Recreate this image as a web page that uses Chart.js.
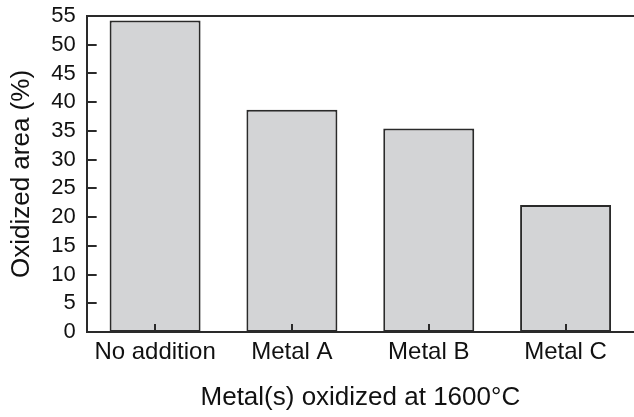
<!DOCTYPE html>
<html>
<head>
<meta charset="utf-8">
<script src="https://cdn.jsdelivr.net/npm/chart.js@4"></script>
<style>
    html, body { margin: 0; padding: 0; background: #fff; }
    #wrap { width: 634px; height: 417px; }
</style>
</head>
<body>
<div id="wrap"><canvas id="chart" width="634" height="417"></canvas></div>
<script>
// Data
const categories = ['No addition', 'Metal A', 'Metal B', 'Metal C'];
const oxidizedArea = [54.2, 38.7, 35.4, 22.1];
const yTicks = [0, 5, 10, 15, 20, 25, 30, 35, 40, 45, 50, 55];

const axisColor = '#2a2a2a';
const fontFamily = '"Liberation Sans", Arial, sans-serif';

// Inward tick marks and the top frame line
const frameTicks = {
    id: 'frameTicks',
    afterDraw(chart) {
        const ctx = chart.ctx;
        const area = chart.chartArea;
        const x = chart.scales.x;
        const y = chart.scales.y;
        ctx.save();
        ctx.strokeStyle = axisColor;
        ctx.lineWidth = 2;
        ctx.beginPath();
        ctx.moveTo(area.left, area.top);
        ctx.lineTo(area.right, area.top);
        yTicks.forEach(v => {
            const py = Math.round(y.getPixelForValue(v));
            ctx.moveTo(area.left, py);
            ctx.lineTo(area.left + 10, py);
        });
        categories.forEach((c, i) => {
            const px = Math.round(x.getPixelForValue(i));
            ctx.moveTo(px, area.bottom);
            ctx.lineTo(px, area.bottom - 8);
        });
        ctx.stroke();
        ctx.restore();
    }
};

const ctx = document.getElementById('chart').getContext('2d');
new Chart(ctx, {
    type: 'bar',
    data: {
        labels: categories,
        datasets: [{
            data: oxidizedArea,
            backgroundColor: '#d3d4d6',
            borderColor: axisColor,
            borderWidth: 2,
            borderSkipped: false,
            categoryPercentage: 0.665,
            barPercentage: 1.0
        }]
    },
    options: {
        responsive: false,
        animation: false,
        layout: { padding: { top: 0, right: 0, left: 2, bottom: 0 } },
        plugins: {
            legend: { display: false },
            tooltip: { enabled: false }
        },
        scales: {
            x: {
                grid: { display: false, drawTicks: false },
                border: { display: true, color: axisColor, width: 2 },
                ticks: {
                    color: '#111',
                    padding: 6,
                    font: { family: fontFamily, size: 24 }
                },
                title: {
                    display: true,
                    text: 'Metal(s) oxidized at 1600°C',
                    color: '#111',
                    padding: { top: 9 },
                    font: { family: fontFamily, size: 26 }
                }
            },
            y: {
                min: 0,
                max: 55,
                afterBuildTicks(scale) {
                    scale.ticks = yTicks.map(v => ({ value: v }));
                },
                afterFit(scale) {
                    scale.paddingTop = 16;
                },
                grid: { display: false, drawTicks: false },
                border: { display: true, color: axisColor, width: 2 },
                ticks: {
                    autoSkip: false,
                    color: '#111',
                    padding: 11,
                    font: { family: fontFamily, size: 22 }
                },
                title: {
                    display: true,
                    text: 'Oxidized area (%)',
                    color: '#111',
                    padding: { bottom: 3 },
                    font: { family: fontFamily, size: 26 }
                }
            }
        }
    },
    plugins: [frameTicks]
});
</script>
</body>
</html>
